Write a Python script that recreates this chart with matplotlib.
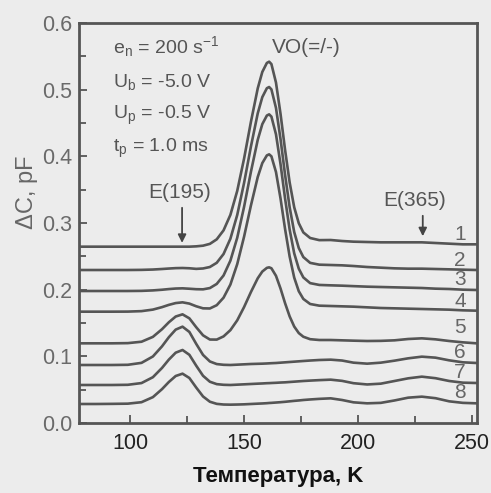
import matplotlib
matplotlib.use("Agg")
import matplotlib.pyplot as plt

plt.rcParams['font.family'] = ['Liberation Sans', 'DejaVu Sans']
plt.rcParams['mathtext.fontset'] = 'custom'
plt.rcParams['mathtext.rm'] = 'Liberation Sans'
plt.rcParams['mathtext.it'] = 'Liberation Sans'

# Temperature grid (K)
temperature = [78, 85, 92, 99, 105, 110, 114, 117, 120, 123, 126, 129, 132, 135, 138,
               141, 144, 147, 150, 153, 156, 158, 160, 161, 162, 164, 166, 168, 170, 172,
               174, 176, 179, 183, 188, 193, 198, 204, 210, 216, 222, 228, 234, 240, 246, 252]

# DLTS spectra, delta C (pF), curves 1..8
curve1 = [0.2645, 0.2645, 0.2645, 0.2645, 0.2645, 0.2645, 0.2645, 0.2645, 0.2645, 0.2645, 0.2645, 0.265, 0.266,
          0.2687, 0.2755, 0.289, 0.3122, 0.3482, 0.3966, 0.4516, 0.502, 0.5266, 0.5401, 0.542, 0.5384, 0.5107,
          0.4636, 0.4095, 0.3608, 0.3236, 0.2997, 0.2859, 0.2775, 0.2743, 0.2745, 0.273, 0.272, 0.2715, 0.271,
          0.271, 0.271, 0.271, 0.270, 0.269, 0.268, 0.268]
curve2 = [0.2295, 0.2295, 0.2295, 0.2295, 0.2297, 0.2302, 0.231, 0.2317, 0.2323, 0.2325, 0.2321, 0.2312, 0.2318,
          0.234, 0.2403, 0.2535, 0.2764, 0.3121, 0.3601, 0.4146, 0.4645, 0.4888, 0.5022, 0.504, 0.5004, 0.4727,
          0.4258, 0.372, 0.3236, 0.2865, 0.2625, 0.2489, 0.2402, 0.2375, 0.237, 0.2365, 0.2355, 0.234, 0.233,
          0.232, 0.2315, 0.2315, 0.231, 0.2305, 0.230, 0.2295]
curve3 = [0.198, 0.198, 0.198, 0.198, 0.1982, 0.1989, 0.1999, 0.2009, 0.2017, 0.202, 0.2014, 0.2007, 0.2005,
          0.2024, 0.2086, 0.2213, 0.2435, 0.2779, 0.3242, 0.3767, 0.4248, 0.4483, 0.4612, 0.463, 0.4596, 0.4331,
          0.3882, 0.3365, 0.2901, 0.2545, 0.2315, 0.2184, 0.2098, 0.2071, 0.2065, 0.206, 0.2053, 0.2045, 0.204,
          0.2035, 0.203, 0.2025, 0.2015, 0.201, 0.200, 0.1995]
curve4 = [0.167, 0.167, 0.167, 0.1671, 0.1678, 0.1701, 0.1738, 0.1772, 0.1799, 0.181, 0.1791, 0.1751, 0.172,
          0.1718, 0.1767, 0.188, 0.2077, 0.2383, 0.2795, 0.3262, 0.369, 0.3899, 0.4014, 0.403, 0.400, 0.3765,
          0.3367, 0.2908, 0.2497, 0.2181, 0.1977, 0.1861, 0.1785, 0.176, 0.1755, 0.175, 0.1745, 0.1735, 0.1725,
          0.172, 0.1715, 0.171, 0.1705, 0.170, 0.169, 0.1685]
curve5 = [0.1195, 0.1195, 0.1195, 0.1198, 0.1219, 0.1292, 0.1407, 0.1511, 0.1597, 0.163, 0.157, 0.1437, 0.1315,
          0.1252, 0.1251, 0.1299, 0.1393, 0.154, 0.1739, 0.1964, 0.2171, 0.2272, 0.2327, 0.2335, 0.2321, 0.2208,
          0.2017, 0.1796, 0.1599, 0.1447, 0.1349, 0.1294, 0.1257, 0.1245, 0.1245, 0.124, 0.1235, 0.123, 0.1232,
          0.124, 0.126, 0.127, 0.1255, 0.123, 0.121, 0.1195]
curve6 = [0.087, 0.087, 0.087, 0.0873, 0.0902, 0.0998, 0.115, 0.1287, 0.1401, 0.1445, 0.1366, 0.1187, 0.1021,
          0.0923, 0.0884, 0.0873, 0.087, 0.0875, 0.088, 0.0885, 0.0888, 0.089, 0.0893, 0.0895, 0.0897, 0.090,
          0.0905, 0.091, 0.0915, 0.092, 0.0925, 0.093, 0.0937, 0.0945, 0.095, 0.0937, 0.0905, 0.089, 0.0905,
          0.0935, 0.097, 0.0995, 0.098, 0.094, 0.091, 0.090]
curve7 = [0.057, 0.057, 0.057, 0.0573, 0.0599, 0.0687, 0.0826, 0.0951, 0.1055, 0.1095, 0.1023, 0.086, 0.0708,
          0.0619, 0.0583, 0.0573, 0.057, 0.0575, 0.058, 0.0585, 0.059, 0.0593, 0.0597, 0.0598, 0.060, 0.0603,
          0.0607, 0.061, 0.0615, 0.062, 0.0625, 0.063, 0.0636, 0.0643, 0.065, 0.0632, 0.0597, 0.0578, 0.059,
          0.063, 0.067, 0.0695, 0.0672, 0.063, 0.0605, 0.060]
curve8 = [0.0285, 0.0285, 0.0287, 0.029, 0.0312, 0.0388, 0.0508, 0.0615, 0.0705, 0.074, 0.0675, 0.0532, 0.0398,
          0.0319, 0.0287, 0.0277, 0.0275, 0.0277, 0.028, 0.0285, 0.029, 0.0293, 0.0297, 0.030, 0.0302, 0.0307,
          0.0312, 0.0318, 0.0325, 0.0332, 0.0338, 0.0345, 0.0353, 0.0362, 0.037, 0.0345, 0.031, 0.0295, 0.0302,
          0.0338, 0.038, 0.0395, 0.0372, 0.0325, 0.0302, 0.0295]

curves = [curve1, curve2, curve3, curve4, curve5, curve6, curve7, curve8]
curve_labels = ['1', '2', '3', '4', '5', '6', '7', '8']
label_y = [0.283, 0.244, 0.215, 0.182, 0.143, 0.106, 0.075, 0.045]
label_x = 244.7

x_ticks = [100, 150, 200, 250]
y_ticks = [0.0, 0.1, 0.2, 0.3, 0.4, 0.5, 0.6]

bg = '#ececec'
lc = '#555555'

fig = plt.figure(figsize=(4.91, 4.93), dpi=100, facecolor=bg)
ax = fig.add_axes([0.161, 0.142, 0.8105, 0.8113])
ax.set_facecolor(bg)

for c in curves:
    ax.plot(temperature, c, color=lc, lw=1.9, solid_capstyle='round')

for lab, yy in zip(curve_labels, label_y):
    ax.text(label_x, yy, lab, fontsize=15, color='#666666', ha='center', va='center')

ax.set_xlim(77.6, 252.2)
ax.set_ylim(0.0, 0.6)
ax.set_xticks(x_ticks)
ax.set_xticks([125, 175, 225], minor=True)
ax.set_yticks(y_ticks)
ax.set_yticks([0.05, 0.15, 0.25, 0.35, 0.45, 0.55], minor=True)
ax.set_yticklabels(['0.0', '0.1', '0.2', '0.3', '0.4', '0.5', '0.6'])
ax.tick_params(axis='both', which='both', direction='in', color=lc, width=1.3)
ax.tick_params(axis='both', which='major', length=6)
ax.tick_params(axis='both', which='minor', length=5)
ax.tick_params(axis='y', labelsize=15.5, labelcolor='#6a6a6a', pad=5)
ax.tick_params(axis='x', labelsize=15.5, labelcolor='#222222', pad=7)
for s in ax.spines.values():
    s.set_color(lc)
    s.set_linewidth(2.0)

ax.set_xlabel('Температура, K', fontsize=16, fontweight='bold', color='#111111', labelpad=9)
fig.text(27 / 491, 1 - 192 / 493, 'ΔC, pF', rotation=90, fontsize=17, color='#666666',
         ha='center', va='center')

# parameter annotations
tx = 92.4
ax.text(tx, 0.564, r'$\mathregular{e_n}$ = 200 s$^{\mathregular{-1}}$', fontsize=14, color='#555555', va='center')
ax.text(tx, 0.512, r'$\mathregular{U_b}$ = -5.0 V', fontsize=14, color='#555555', va='center')
ax.text(tx, 0.462, r'$\mathregular{U_p}$ = -0.5 V', fontsize=14, color='#555555', va='center')
ax.text(tx, 0.4125, r'$\mathregular{t_p}$ = 1.0 ms', fontsize=14, color='#555555', va='center')

ax.text(177.5, 0.564, 'VO(=/-)', fontsize=15, color='#555555', ha='center', va='center')
ax.text(121.9, 0.3465, 'E(195)', fontsize=15, color='#555555', ha='center', va='center')
ax.text(225.0, 0.3345, 'E(365)', fontsize=15, color='#555555', ha='center', va='center')

ax.annotate('', xy=(122.8, 0.266), xytext=(122.8, 0.327),
            arrowprops=dict(arrowstyle='-|>', color='#444444', lw=1.3, mutation_scale=12))
ax.annotate('', xy=(228.4, 0.276), xytext=(228.4, 0.315),
            arrowprops=dict(arrowstyle='-|>', color='#444444', lw=1.3, mutation_scale=12))

fig.savefig('out.png', dpi=100, facecolor=bg)
